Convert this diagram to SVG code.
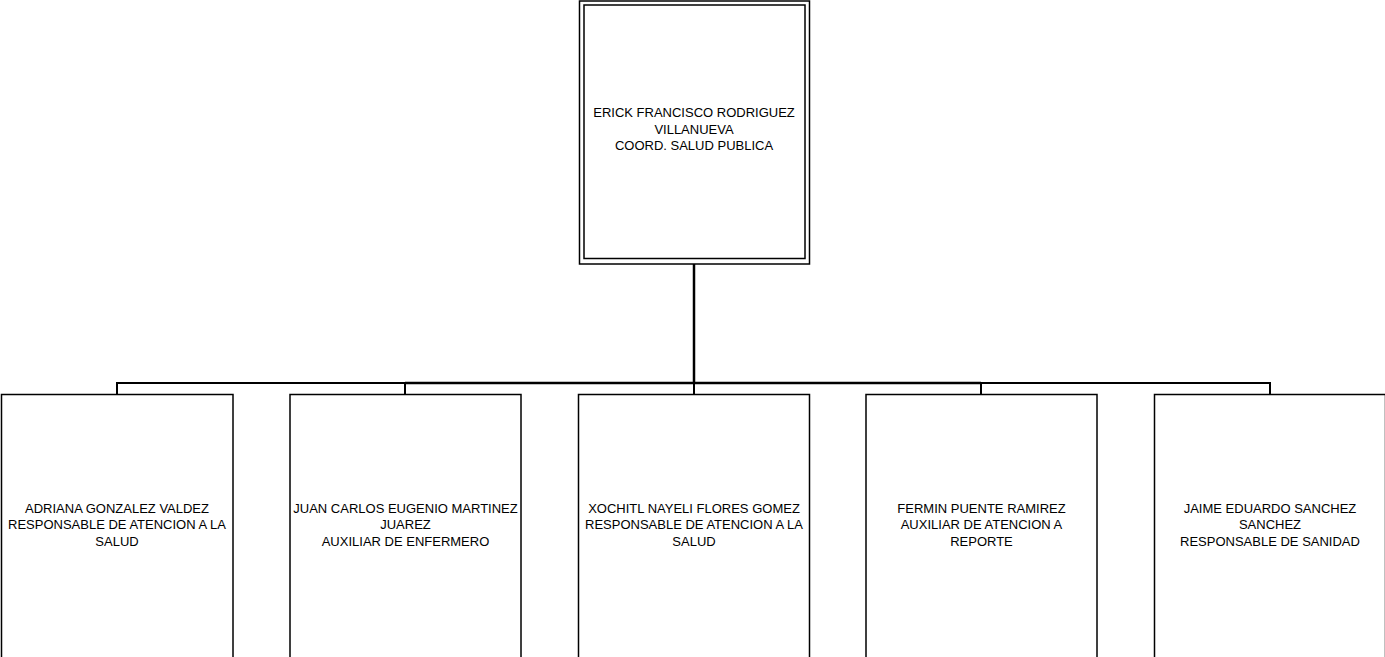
<svg xmlns="http://www.w3.org/2000/svg" width="1385" height="657" viewBox="0 0 1385 657">
<style>
.box{fill:#fff;stroke:#000;stroke-width:1.5}
.t{font-family:"Liberation Sans",Arial,sans-serif;font-size:13px;fill:#000;text-anchor:middle}
.c{fill:none;stroke:#000;stroke-width:2}
</style>
<rect width="1385" height="657" fill="#fff"/>
<g id="connectors">
<line class="c" x1="694" y1="262" x2="694" y2="383" style="stroke-width:2.5"/>
<line class="c" x1="117" y1="383" x2="1270" y2="383"/>
<line class="c" x1="405" y1="383" x2="981" y2="383" style="stroke-width:2.5"/>
<line class="c" x1="117" y1="382" x2="117" y2="395"/>
<line class="c" x1="405" y1="382" x2="405" y2="395"/>
<line class="c" x1="694" y1="382" x2="694" y2="395"/>
<line class="c" x1="981" y1="382" x2="981" y2="395"/>
<line class="c" x1="1270" y1="382" x2="1270" y2="395"/>
</g>
<g id="n0">
<rect class="box" x="579.5" y="1" width="230" height="263"/>
<rect class="box" x="584" y="5" width="221" height="253.5"/>
<text class="t" x="694" y="117">ERICK FRANCISCO RODRIGUEZ</text>
<text class="t" x="694" y="133.5">VILLANUEVA</text>
<text class="t" x="694" y="150">COORD. SALUD PUBLICA</text>
</g>
<g id="n1">
<rect class="box" x="1.5" y="394.5" width="231.5" height="270"/>
<text class="t" x="117" y="512.5">ADRIANA GONZALEZ VALDEZ</text>
<text class="t" x="117" y="529">RESPONSABLE DE ATENCION A LA</text>
<text class="t" x="117" y="545.5">SALUD</text>
</g>
<g id="n2">
<rect class="box" x="290" y="394.5" width="231" height="270"/>
<text class="t" x="405.5" y="512.5">JUAN CARLOS EUGENIO MARTINEZ</text>
<text class="t" x="405.5" y="529">JUAREZ</text>
<text class="t" x="405.5" y="545.5">AUXILIAR DE ENFERMERO</text>
</g>
<g id="n3">
<rect class="box" x="578.5" y="394.5" width="231" height="270"/>
<text class="t" x="694" y="512.5">XOCHITL NAYELI FLORES GOMEZ</text>
<text class="t" x="694" y="529">RESPONSABLE DE ATENCION A LA</text>
<text class="t" x="694" y="545.5">SALUD</text>
</g>
<g id="n4">
<rect class="box" x="866" y="394.5" width="231" height="270"/>
<text class="t" x="981.5" y="512.5">FERMIN PUENTE RAMIREZ</text>
<text class="t" x="981.5" y="529">AUXILIAR DE ATENCION A</text>
<text class="t" x="981.5" y="545.5">REPORTE</text>
</g>
<g id="n5">
<rect class="box" x="1154.5" y="394.5" width="231" height="270"/>
<text class="t" x="1270" y="512.5">JAIME EDUARDO SANCHEZ</text>
<text class="t" x="1270" y="529">SANCHEZ</text>
<text class="t" x="1270" y="545.5">RESPONSABLE DE SANIDAD</text>
</g>
</svg>
